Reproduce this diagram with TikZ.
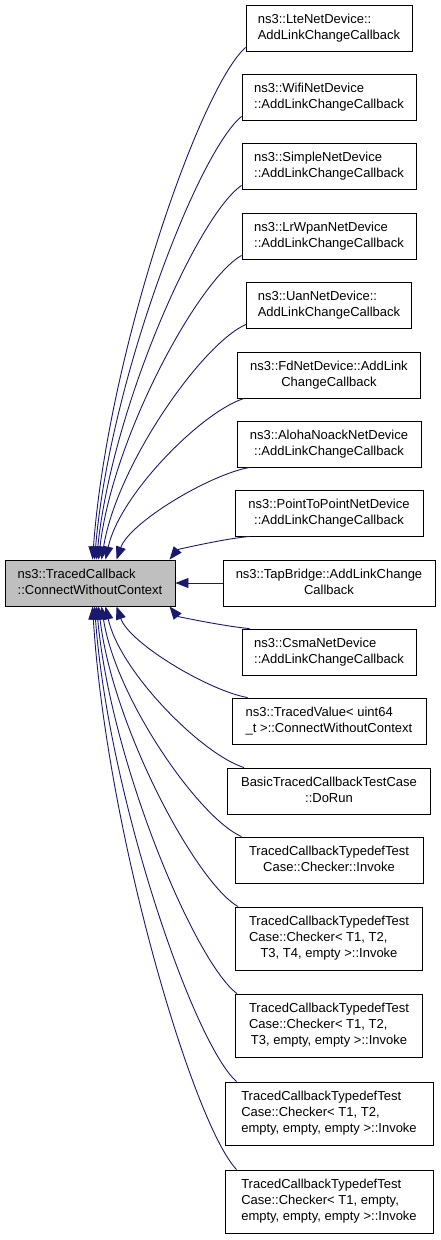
\documentclass[tikz,border=0pt]{standalone}
\usepackage{fontspec}
\setmainfont{Liberation Sans}
\usetikzlibrary{arrows.meta,calc}
\definecolor{edgeblue}{RGB}{25,25,112}
\definecolor{maingray}{RGB}{191,191,191}
\newcommand\Ln[1]{\multicolumn{1}{@{}l@{}}{#1}}
\newcommand\Lbl[1]{\begin{tabular}{@{}c@{}}#1\end{tabular}}
\tikzset{
  box/.style={draw=black, line width=0.9pt, fill=white, inner sep=0pt,
    font=\fontsize{13}{16}\selectfont},
  twoline/.style={box, minimum height=46pt},
  threeline/.style={box, minimum height=63pt},
  mainbox/.style={twoline, fill=maingray},
  edge/.style={draw=edgeblue, line width=0.9pt, -{Triangle[length=13pt,width=10pt]}}
}
\begin{document}
\begin{tikzpicture}[x=1pt,y=-1pt]
\useasboundingbox (0,0) rectangle (440,1240);
% main node
\node[mainbox, minimum width=170pt] (main) at (90,583)
  {\Lbl{\Ln{ns3::TracedCallback}\\::ConnectWithoutContext}};
% callers
\node[twoline, minimum width=166pt] (lte) at (329,28)
  {\Lbl{\Ln{ns3::LteNetDevice::}\\AddLinkChangeCallback}};
\node[twoline, minimum width=174pt] (wifi) at (329,97)
  {\Lbl{\Ln{ns3::WifiNetDevice}\\::AddLinkChangeCallback}};
\node[twoline, minimum width=174pt] (simple) at (329,166)
  {\Lbl{\Ln{ns3::SimpleNetDevice}\\::AddLinkChangeCallback}};
\node[twoline, minimum width=174pt] (lrwpan) at (329,236)
  {\Lbl{\Ln{ns3::LrWpanNetDevice}\\::AddLinkChangeCallback}};
\node[twoline, minimum width=165pt] (uan) at (329,305)
  {\Lbl{\Ln{ns3::UanNetDevice::}\\AddLinkChangeCallback}};
\node[twoline, minimum width=183pt] (fd) at (329,375)
  {\Lbl{\Ln{ns3::FdNetDevice::AddLink}\\ChangeCallback}};
\node[twoline, minimum width=184pt] (aloha) at (329,444)
  {\Lbl{\Ln{ns3::AlohaNoackNetDevice}\\::AddLinkChangeCallback}};
\node[twoline, minimum width=188pt] (p2p) at (329,513)
  {\Lbl{\Ln{ns3::PointToPointNetDevice}\\::AddLinkChangeCallback}};
\node[twoline, minimum width=212pt] (tap) at (329,583)
  {\Lbl{\Ln{ns3::TapBridge::AddLinkChange}\\Callback}};
\node[twoline, minimum width=174pt] (csma) at (329,652)
  {\Lbl{\Ln{ns3::CsmaNetDevice}\\::AddLinkChangeCallback}};
\node[twoline, minimum width=194pt] (tval) at (329,721)
  {\Lbl{\Ln{ns3::TracedValue< uint64}\\\_t >::ConnectWithoutContext}};
\node[twoline, minimum width=203pt] (basic) at (329,791)
  {\Lbl{\Ln{BasicTracedCallbackTestCase}\\::DoRun}};
\node[twoline, minimum width=188pt] (inv) at (329,860)
  {\Lbl{\Ln{TracedCallbackTypedefTest}\\Case::Checker::Invoke}};
\node[threeline, minimum width=187pt] (cfour) at (329,938.5)
  {\Lbl{\Ln{TracedCallbackTypedefTest}\\\Ln{Case::Checker< T1, T2,}\\T3, T4, empty >::Invoke}};
\node[threeline, minimum width=187pt] (cthree) at (329,1025.5)
  {\Lbl{\Ln{TracedCallbackTypedefTest}\\\Ln{Case::Checker< T1, T2,}\\T3, empty, empty >::Invoke}};
\node[threeline, minimum width=208pt] (ctwo) at (329,1113.5)
  {\Lbl{\Ln{TracedCallbackTypedefTest}\\\Ln{Case::Checker< T1, T2,}\\empty, empty, empty >::Invoke}};
\node[threeline, minimum width=208pt] (cone) at (329,1201.5)
  {\Lbl{\Ln{TracedCallbackTypedefTest}\\\Ln{Case::Checker< T1, empty,}\\empty, empty, empty >::Invoke}};
% edges from above
\draw[edge] ($(lte.south west)+(0,-4)$) .. controls +(-46,41) and +(15,-205) .. ($(main.north west)+(88,0)$);
\draw[edge] ($(wifi.south west)+(0,-4)$) .. controls +(-44,36) and +(15,-178) .. ($(main.north west)+(90,0)$);
\draw[edge] ($(simple.south west)+(0,-4)$) .. controls +(-44,30) and +(15,-150) .. ($(main.north west)+(92,0)$);
\draw[edge] ($(lrwpan.south west)+(0,-4)$) .. controls +(-43,24) and +(14,-122) .. ($(main.north west)+(94,0)$);
\draw[edge] ($(uan.south west)+(0,-4)$) .. controls +(-44,19) and +(15,-94) .. ($(main.north west)+(97,0)$);
\draw[edge] ($(fd.south west)+(7,0)$) .. controls +(-42,13) and +(14,-65) .. ($(main.north west)+(101,0)$);
\draw[edge] ($(aloha.south west)+(13,0)$) .. controls +(-40,7) and +(13,-37) .. ($(main.north west)+(112,0)$);
\draw[edge] ($(p2p.south west)+(15,0)$) .. controls +(-24,2) and +(8,-10) .. ($(main.north west)+(165,0)$);
% straight edge
\draw[edge] (tap.west) -- (main.east);
% edges from below
\draw[edge] ($(csma.north west)+(8,0)$) .. controls +(-24,-2) and +(8,10) .. ($(main.south west)+(165,0)$);
\draw[edge] ($(tval.north west)+(16,0)$) .. controls +(-39,-7) and +(13,37) .. ($(main.south west)+(112,0)$);
\draw[edge] ($(basic.north west)+(17,0)$) .. controls +(-42,-13) and +(14,65) .. ($(main.south west)+(101,0)$);
\draw[edge] ($(inv.north west)+(7,0)$) .. controls +(-42,-18) and +(14,92) .. ($(main.south west)+(97,0)$);
\draw[edge] ($(cfour.north west)+(3,0)$) .. controls +(-42,-24) and +(14,120) .. ($(main.south west)+(94,0)$);
\draw[edge] ($(cthree.north west)+(2,0)$) .. controls +(-42,-31) and +(14,155) .. ($(main.south west)+(92,0)$);
\draw[edge] ($(ctwo.north west)+(12,0)$) .. controls +(-43,-38) and +(14,190) .. ($(main.south west)+(90,0)$);
\draw[edge] ($(cone.north west)+(12,0)$) .. controls +(-43,-45) and +(14,226) .. ($(main.south west)+(88,0)$);
\end{tikzpicture}
\end{document}
